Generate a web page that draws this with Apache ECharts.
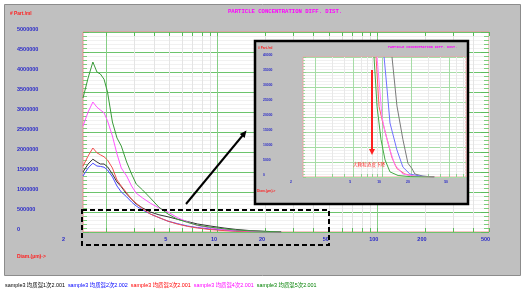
<!DOCTYPE html>
<html><head><meta charset="utf-8">
<script src="https://cdn.jsdelivr.net/npm/echarts@6/dist/echarts.min.js"></script>
<style>html,body{margin:0;padding:0;background:#fff}#c{width:524px;height:293px}</style>
</head><body><div id="c"></div>
<script>
// ---------- main chart data ----------
const diameters = [1.44,1.55,1.66,1.76,1.85,1.95,2.05,2.2,2.35,2.5,2.7,2.9,3.1,3.4,3.8,4.3,4.9,5.6,6.5,7.5,9,11,13,16,20,25];
const sample1 = [1500000,1700000,1820000,1750000,1700000,1700000,1630000,1450000,1250000,1130000,950000,820000,700000,600000,500000,430000,380000,320000,260000,200000,150000,100000,65000,35000,15000,5000];
const sample2 = [1400000,1600000,1720000,1650000,1640000,1620000,1550000,1380000,1150000,1000000,880000,750000,650000,550000,450000,360000,270000,210000,150000,110000,75000,45000,25000,12000,5000,2000];
const sample3 = [1650000,1900000,2100000,1980000,1930000,1880000,1800000,1600000,1300000,1150000,980000,820000,720000,580000,450000,360000,270000,200000,140000,100000,60000,35000,20000,10000,5000,2000];
const sample4 = [2650000,3000000,3250000,3120000,3050000,2980000,2780000,2400000,1950000,1600000,1400000,1150000,970000,850000,720000,600000,500000,360000,250000,160000,100000,60000,40000,20000,10000,4000];
const sample5 = [3350000,3850000,4250000,4000000,3950000,3820000,3500000,2750000,2350000,2150000,1750000,1450000,1200000,1050000,850000,620000,450000,320000,240000,170000,120000,80000,50000,30000,15000,5000];

const seriesNames = ['sample3 均质混1次2.001','sample3 均质混2次2.002','sample3 均质混3次2.001','sample3 均质混4次2.001','sample3 均质混5次2.001'];
const lineColors = ['#333333','#4a4aff','#f05050','#ff55ff','#3a9a3a'];
const legendColors = ['#000000','#0000ff','#ff0000','#ff00ff','#008000'];

const xTickValues = [2,3,4,5,6,7,8,9,10,20,30,40,50,60,70,80,90,100,200,300,400,500];
const xMajorValues = [2,10,100];
const xLabelValues = [5,10,20,50,100,200,500];
const xLabelTexts = ['5','10','20','50','100','200','500'];
const xFirstLabel = '2';
const xMin = 1.44, xMax = 500;
const yMin = 0, yMax = 5000000, yStep = 500000;

// ---------- inset (zoomed screenshot) data ----------
const insetD1 = [12.7,14.3,16.5,18.6,20.5,22,26.7,35];
const insetV1 = [40000,23700,12500,4600,2800,1000,300,0];
const insetD2 = [10.5,11.3,12.1,14.3,16.5,19.5,25,35];
const insetV2 = [40000,29000,18000,9000,3300,1000,300,0];
const insetD3 = [8.66,9.3,10.2,11.3,12.7,14.3,17.3,22,35];
const insetV3 = [40000,23500,18000,12500,6400,2800,1000,200,0];
const insetD4 = [8.87,10,10.75,12.1,13.6,16.5,22,35];
const insetV4 = [40000,20000,15000,9000,4000,1000,200,0];
const insetD5 = [8.25,8.87,9.75,10.75,12.1,14.7,20,35];
const insetV5 = [40000,23500,12500,5700,1700,500,100,0];
const insetColors = ['#7a7a7a','#7070ff','#ff6060','#ff77ff','#44aa44'];
const insetTickValues = [2,3,4,5,6,7,8,9,10,20,30,40,50,60,70];
const insetMajorValues = [2,5,10,20,50];
const insetLabelValues = [5,10,20,50];
const insetLabelTexts = ['5','10','20','50'];
const insetXMin = 1.5, insetXMax = 75;
const insetYMax = 40000, insetYStep = 5000;

const titleText = 'PARTICLE CONCENTRATION DIFF. DIST.';
const yName = '# Part./ml';
const xName = 'Diam.(µm)->';
const noteText = '大颗粒浓度下降';

// ---------- build ----------
const L = Math.log10;
const FONT = '"Liberation Sans","Noto Sans CJK SC",sans-serif';
const MONO = '"Liberation Mono",monospace';
const labelFmt = (vals, texts) => v => {
  for (let i = 0; i < vals.length; i++) if (Math.abs(L(vals[i]) - v) < 1e-6) return texts[i];
  return '';
};
const plainNum = v => String(Math.round(v));

const chart = echarts.init(document.getElementById('c'), null, {renderer: 'canvas'});

const mainSeries = [sample1, sample2, sample3, sample4, sample5].map((vals, i) => ({
  type: 'line', name: seriesNames[i], xAxisIndex: 0, yAxisIndex: 0,
  data: diameters.map((d, j) => [d, vals[j]]),
  showSymbol: false, smooth: false, animation: false, z: 3,
  lineStyle: {color: lineColors[i], width: 1}, itemStyle: {color: legendColors[i]}
}));
const insetSeries = [[insetD1,insetV1],[insetD2,insetV2],[insetD3,insetV3],[insetD4,insetV4],[insetD5,insetV5]].map((p, i) => ({
  type: 'line', xAxisIndex: 4, yAxisIndex: 2,
  data: p[0].map((d, j) => [d, p[1][j]]),
  showSymbol: false, animation: false, z: 14, clip: true,
  lineStyle: {color: insetColors[i], width: 1}
}));

const greenTick = '#5cbc5c';
const option = {
  backgroundColor: '#ffffff',
  animation: false,
  title: [
    {text: titleText, left: 228, top: 9, padding: 0, textStyle: {color: '#ff00ff', fontSize: 5.6, fontWeight: 'bold', fontFamily: MONO}},
    {text: yName, left: 10, top: 11, padding: 0, textStyle: {color: '#ff2020', fontSize: 4.8, fontWeight: 'bold', fontFamily: FONT}},
    {text: xName, left: 17, top: 254, padding: 0, textStyle: {color: '#ff2020', fontSize: 5, fontWeight: 'bold', fontFamily: FONT}},
    {text: titleText, left: 388, top: 45.5, padding: 0, z: 20, textStyle: {color: '#ff00ff', fontSize: 3.4, fontWeight: 'bold', fontFamily: MONO}},
    {text: yName, left: 258, top: 46.5, padding: 0, z: 20, textStyle: {color: '#ff2020', fontSize: 3.2, fontWeight: 'bold', fontFamily: FONT}},
    {text: xName, left: 257, top: 189.5, padding: 0, z: 20, textStyle: {color: '#ff2020', fontSize: 3.2, fontWeight: 'bold', fontFamily: FONT}},
    {text: noteText, left: 353, top: 162.5, padding: 0, z: 20, textStyle: {color: '#ff3030', fontSize: 4.6, fontWeight: 'normal', fontFamily: FONT}}
  ],
  legend: {
    left: 0, top: 283, padding: 0, icon: 'none', itemWidth: 0, itemHeight: 6, itemGap: -2,
    selectedMode: false,
    textStyle: {fontSize: 5.4, fontFamily: FONT},
    data: seriesNames.map((n, i) => ({name: n, textStyle: {color: legendColors[i]}}))
  },
  grid: [
    {left: 83, right: 35, top: 32, bottom: 61, show: true, backgroundColor: '#ffffff', borderColor: '#f08c8c', borderWidth: 1, z: 0},
    {left: 303, right: 58, top: 57, bottom: 116, show: true, backgroundColor: '#ffffff', borderColor: '#f0a0a0', borderWidth: 1, z: 11}
  ],
  xAxis: [
    {type: 'log', gridIndex: 0, logBase: 10, min: xMin, max: xMax, show: false},
    {type: 'value', gridIndex: 0, position: 'bottom', min: L(xMin), max: L(xMax),
      axisLine: {show: false},
      axisTick: {show: true, inside: true, length: 4, customValues: xTickValues.map(L), lineStyle: {color: greenTick}},
      axisLabel: {customValues: xLabelValues.map(L), formatter: labelFmt(xLabelValues, xLabelTexts), margin: 5, padding: [0, 7, 0, 0],
        color: '#2828c8', fontSize: 5.5, fontWeight: 'bold', fontFamily: FONT},
      splitLine: {show: true, lineStyle: {color: '#e4e4e4', width: 1}},
      name: xFirstLabel, nameLocation: 'start', nameGap: 18,
      nameTextStyle: {color: '#2828c8', fontSize: 5.5, fontWeight: 'bold', fontFamily: FONT, verticalAlign: 'top', padding: [5, 0, 0, 0]}
    },
    {type: 'value', gridIndex: 0, position: 'top', min: L(xMin), max: L(xMax),
      axisLine: {show: false}, axisLabel: {show: false}, splitLine: {show: false},
      axisTick: {show: true, inside: true, length: 4, customValues: xTickValues.map(L), lineStyle: {color: greenTick}}
    },
    {type: 'value', gridIndex: 0, position: 'bottom', min: L(xMin), max: L(xMax),
      axisLine: {show: false}, axisLabel: {show: false},
      axisTick: {show: false, customValues: xMajorValues.map(L)},
      splitLine: {show: true, lineStyle: {color: '#86cf86', width: 1}}
    },
    {type: 'log', gridIndex: 1, logBase: 10, min: insetXMin, max: insetXMax, show: false},
    {type: 'value', gridIndex: 1, position: 'bottom', min: L(insetXMin), max: L(insetXMax), z: 12,
      axisLine: {show: false},
      axisTick: {show: true, inside: true, length: 3, customValues: insetTickValues.map(L), lineStyle: {color: '#8fd08f'}},
      axisLabel: {customValues: insetLabelValues.map(L), formatter: labelFmt(insetLabelValues, insetLabelTexts), margin: 3, padding: [0, 6, 0, 0],
        color: '#2828c8', fontSize: 3.4, fontWeight: 'bold', fontFamily: FONT},
      splitLine: {show: true, lineStyle: {color: '#e8e8e8', width: 1}},
      name: xFirstLabel, nameLocation: 'start', nameGap: 11,
      nameTextStyle: {color: '#2828c8', fontSize: 3.4, fontWeight: 'bold', fontFamily: FONT, verticalAlign: 'top', padding: [3, 0, 0, 0]}
    },
    {type: 'value', gridIndex: 1, position: 'bottom', min: L(insetXMin), max: L(insetXMax), z: 12,
      axisLine: {show: false}, axisLabel: {show: false},
      axisTick: {show: false, customValues: insetMajorValues.map(L)},
      splitLine: {show: true, lineStyle: {color: '#a6dca6', width: 1}}
    }
  ],
  yAxis: [
    {type: 'value', gridIndex: 0, position: 'left', min: yMin, max: yMax, interval: yStep,
      axisLine: {show: false},
      axisTick: {show: true, inside: true, length: 6, lineStyle: {color: greenTick}},
      minorTick: {show: true, splitNumber: 5, length: 4, lineStyle: {color: '#7ccc7c'}},
      axisLabel: {formatter: plainNum, align: 'left', margin: 66, verticalAlign: 'bottom', color: '#2828c8', fontSize: 5.5, fontWeight: 'bold', fontFamily: FONT},
      splitLine: {show: true, lineStyle: {color: '#6cc46c', width: 1}},
      minorSplitLine: {show: true, lineStyle: {color: '#f1f1f1', width: 1}}
    },
    {type: 'value', gridIndex: 0, position: 'right', min: yMin, max: yMax, interval: yStep,
      axisLine: {show: false}, axisLabel: {show: false}, splitLine: {show: false},
      axisTick: {show: true, inside: true, length: 8, lineStyle: {color: greenTick}},
      minorTick: {show: true, splitNumber: 5, length: 5, lineStyle: {color: '#7ccc7c'}}
    },
    {type: 'value', gridIndex: 1, position: 'left', min: 0, max: insetYMax, interval: insetYStep, z: 12,
      axisLine: {show: false},
      axisTick: {show: true, inside: true, length: 3, lineStyle: {color: '#8fd08f'}},
      minorTick: {show: true, splitNumber: 5, length: 2, lineStyle: {color: '#a0d8a0'}},
      axisLabel: {formatter: plainNum, align: 'left', margin: 40, verticalAlign: 'bottom', color: '#2828c8', fontSize: 3.4, fontWeight: 'bold', fontFamily: FONT},
      splitLine: {show: true, lineStyle: {color: '#a6dca6', width: 1}},
      minorSplitLine: {show: true, lineStyle: {color: '#f0f0f0', width: 1}}
    }
  ],
  graphic: [
    {type: 'rect', z: -10, silent: true, shape: {x: 4.5, y: 4.5, width: 516, height: 271}, style: {fill: '#c0c0c0', stroke: '#8c8c8c', lineWidth: 1}},
    {type: 'rect', z: 5, silent: true, shape: {x: 82, y: 210, width: 247, height: 35}, style: {fill: null, stroke: '#000', lineWidth: 2, lineDash: [5, 3]}},
    {type: 'line', z: 5, silent: true, shape: {x1: 186, y1: 204, x2: 243, y2: 135}, style: {stroke: '#000', lineWidth: 2}},
    {type: 'polygon', z: 5, silent: true, shape: {points: [[246.5, 130.5], [244.6, 138.0], [239.8, 134.0]]}, style: {fill: '#000'}},
    {type: 'rect', z: 10, silent: true, shape: {x: 255, y: 41, width: 213, height: 163}, style: {fill: '#c0c0c0', stroke: '#000', lineWidth: 2.5}},
    {type: 'line', z: 20, silent: true, shape: {x1: 372, y1: 70, x2: 372, y2: 150}, style: {stroke: '#ff2020', lineWidth: 2}},
    {type: 'polygon', z: 20, silent: true, shape: {points: [[369, 149], [375, 149], [372, 155]]}, style: {fill: '#ff2020'}}
  ],
  series: mainSeries.concat(insetSeries)
};
chart.setOption(option);
</script>
</body></html>
